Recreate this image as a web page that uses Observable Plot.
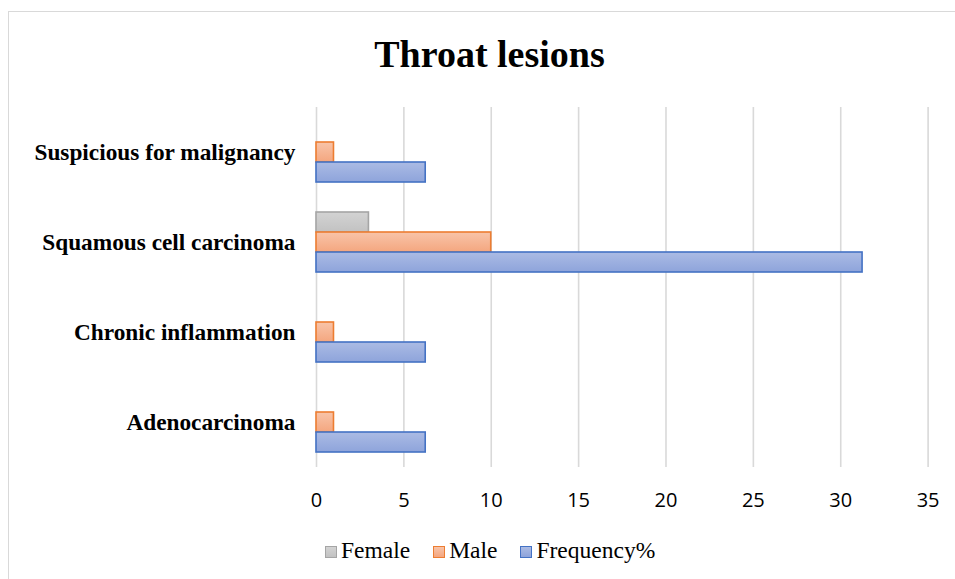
<!DOCTYPE html>
<html>
<head>
<meta charset="utf-8">
<script src="https://cdn.jsdelivr.net/npm/d3@7"></script>
<script src="https://cdn.jsdelivr.net/npm/@observablehq/plot@0.6"></script>
<style>
  body { margin: 0; background: #fff; }
  #wrap { position: relative; width: 955px; height: 579px; overflow: hidden; background: #fff; }
  #chart { position: absolute; left: 0; top: 0; }
  #frame { position: absolute; left: 8px; top: 11px; width: 1100px; height: 800px; border: 1.5px solid #d9d9d9; box-sizing: border-box; pointer-events: none; }
  #title { position: absolute; left: 0; top: 35px; width: 979px; text-align: center; font: bold 38px "Liberation Serif", serif; line-height: 38px; color: #000; }
  #legend { position: absolute; left: 325px; top: 539px; display: flex; align-items: baseline; font: 23.5px "Liberation Serif", serif; line-height: 23px; color: #000; }
  .item { display: flex; align-items: baseline; margin-right: 23px; }
  .sw { width: 10px; height: 10px; border: 1.5px solid; margin-right: 4px; position: relative; top: 0px; }
</style>
</head>
<body>
<div id="wrap">
  <div id="chart"></div>
  <div id="frame"></div>
  <div id="title"></div>
  <div id="legend"></div>
</div>
<script>
// ---- data ----
const titleText = "Throat lesions";
const categories = ["Suspicious for malignancy", "Squamous cell carcinoma", "Chronic inflammation", "Adenocarcinoma"];
const series = ["Female", "Male", "Frequency%"];
const female = [0, 3, 0, 0];
const male = [1, 10, 1, 1];
const frequency = [6.25, 31.25, 6.25, 6.25];
const xTicks = [0, 5, 10, 15, 20, 25, 30, 35];

// ---- styles ----
const seriesStyle = {
  "Female":     {id: "gGray",   top: "#d3d3d3", bottom: "#c2c2c2", stroke: "#a5a5a5"},
  "Male":       {id: "gOrange", top: "#f8c4a9", bottom: "#f4a67f", stroke: "#ed7d31"},
  "Frequency%": {id: "gBlue",   top: "#abbbe4", bottom: "#8ea4db", stroke: "#4472c4"}
};

const valuesBySeries = {"Female": female, "Male": male, "Frequency%": frequency};
const data = categories.flatMap((c, i) => series.map(s => ({cat: c, s, v: valuesBySeries[s][i]})));

const barMarks = series.map(s => Plot.barX(
  data.filter(d => d.s === s && d.v > 0),
  {x: "v", y: "s", fy: "cat", fill: `url(#${seriesStyle[s].id})`, stroke: seriesStyle[s].stroke, strokeWidth: 1.6}
));

const chart = Plot.plot({
  width: 955,
  height: 579,
  marginLeft: 316,
  marginRight: 27.4,
  marginTop: 107,
  marginBottom: 112,
  style: {background: "transparent"},
  x: {domain: [0, 35], ticks: xTicks},
  fy: {domain: categories, padding: 0},
  y: {domain: series, paddingInner: 0, paddingOuter: 0.75, axis: null},
  marks: [
    Plot.gridX(xTicks, {stroke: "#d9d9d9", strokeOpacity: 1, strokeWidth: 1.6}),
    ...barMarks,
    Plot.axisX(xTicks, {anchor: "bottom", tickSize: 0, tickPadding: 25, fontSize: 20, fontFamily: "Open Sans", fill: "#000", label: null}),
    Plot.axisFy({anchor: "left", tickSize: 0, tickPadding: 21, fontSize: 23.3, fontWeight: "bold", fontFamily: "Liberation Serif", fill: "#000", label: null})
  ]
});

// gradient defs
const svg = d3.select(chart);
const defs = svg.insert("defs", ":first-child");
for (const s of series) {
  const st = seriesStyle[s];
  const g = defs.append("linearGradient").attr("id", st.id).attr("x1", 0).attr("y1", 0).attr("x2", 0).attr("y2", 1);
  g.append("stop").attr("offset", "0%").attr("stop-color", st.top);
  g.append("stop").attr("offset", "100%").attr("stop-color", st.bottom);
}
document.getElementById("chart").appendChild(chart);
document.getElementById("title").textContent = titleText;

// legend
const legend = document.getElementById("legend");
for (const s of series) {
  const st = seriesStyle[s];
  const item = document.createElement("div");
  item.className = "item";
  const sw = document.createElement("div");
  sw.className = "sw";
  sw.style.borderColor = st.stroke;
  sw.style.background = `linear-gradient(${st.top}, ${st.bottom})`;
  const tx = document.createElement("span");
  tx.textContent = s;
  item.appendChild(sw);
  item.appendChild(tx);
  legend.appendChild(item);
}
</script>
</body>
</html>
